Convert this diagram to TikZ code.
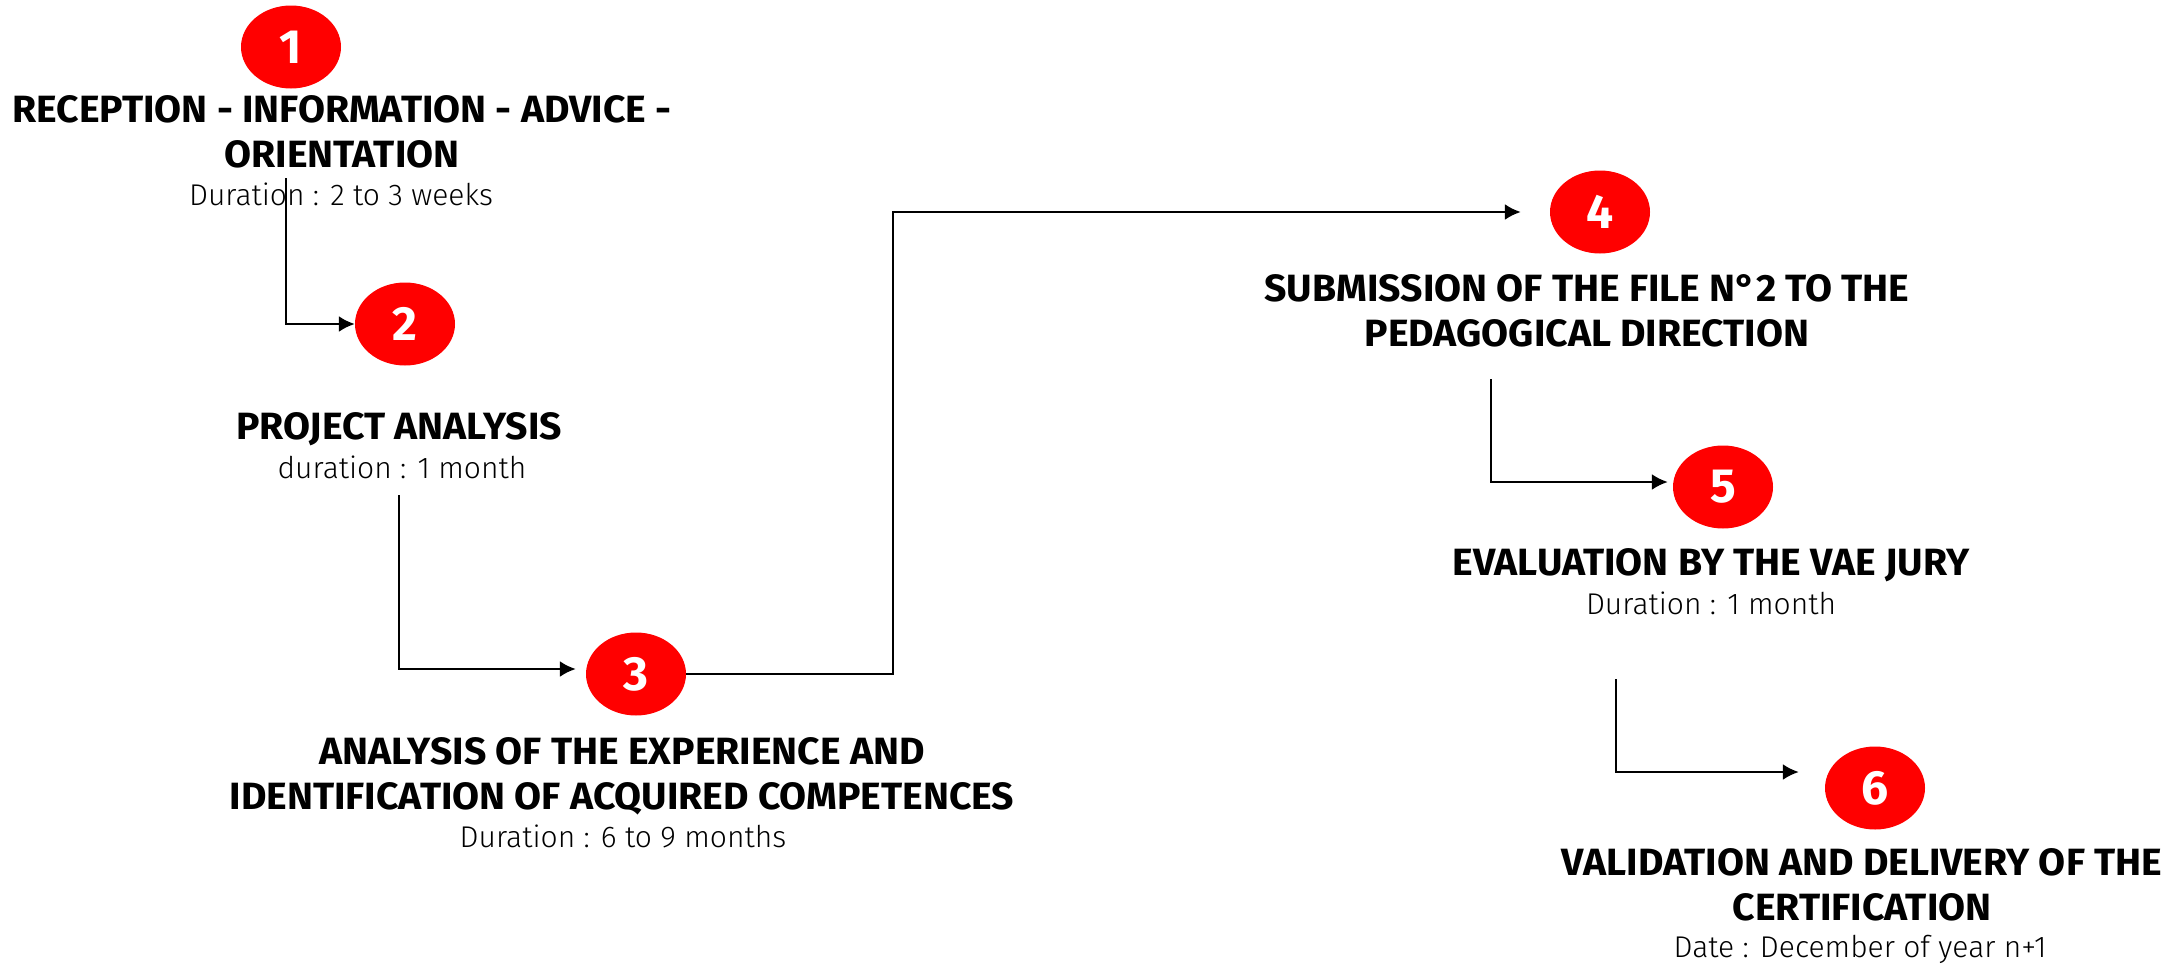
\documentclass[tikz,border=0pt]{standalone}
\usepackage{fontspec}
\setmainfont{Fira Sans}
\newfontfamily\headfont{Fira Sans}[FakeStretch=1.03]
\newfontfamily\lightfont{Fira Sans Light}
\usetikzlibrary{shapes.geometric,arrows.meta}

\begin{document}
\begin{tikzpicture}[x=1pt,y=-1pt]
			\tikzstyle{headline}=[align=center, inner sep=0pt, anchor=north, font=\fontsize{38}{45}\selectfont\headfont\bfseries]
			\tikzstyle{durtext}=[inner sep=0pt, anchor=north, font=\fontsize{30}{36}\selectfont\lightfont]
			\tikzstyle{stepnum}=[ellipse, fill=red, minimum width=100pt, minimum height=83pt, inner sep=0pt, text=white, font=\fontsize{48}{48}\selectfont\bfseries]
			\tikzset{edge/.style = {->,> = {Latex[length=16pt,width=16pt]}, line width=2.4pt}}
			
			\useasboundingbox (0,0) rectangle (2182,972);
			
			\node[stepnum](c1) at (291,47) {1};
			\node[headline](t1) at (342,95) {RECEPTION - INFORMATION - ADVICE -\\ORIENTATION};
			\node[durtext](d1) at (341,183) {Duration : 2 to 3 weeks};
			
			\node[stepnum](c2) at (405,324) {2};
			\node[headline](t2) at (399,412) {PROJECT ANALYSIS};
			\node[durtext](d2) at (402,456) {duration : 1 month};
			
			\node[stepnum](c3) at (636,674) {3};
			\node[headline](t3) at (622,737) {ANALYSIS OF THE EXPERIENCE AND\\IDENTIFICATION OF ACQUIRED COMPETENCES};
			\node[durtext](d3) at (623,825) {Duration : 6 to 9 months};
			
			\node[stepnum](c4) at (1600,212) {4};
			\node[headline](t4) at (1587,274) {SUBMISSION OF THE FILE N°2 TO THE\\PEDAGOGICAL DIRECTION};
			
			\node[stepnum](c5) at (1723,487) {5};
			\node[headline](t5) at (1711,548) {EVALUATION BY THE VAE JURY};
			\node[durtext](d5) at (1711,592) {Duration : 1 month};
			
			\node[stepnum](c6) at (1875,788) {6};
			\node[headline](t6) at (1862,848) {VALIDATION AND DELIVERY OF THE\\CERTIFICATION};
			\node[durtext](d6) at (1860,935) {Date : December of year n+1};
			
			\coordinate (s1) at (286,178);
			\coordinate (s2) at (399,495);
			\coordinate (k34) at (893,212);
			\coordinate (s4) at (1491,379);
			\coordinate (s5) at (1616,679);
			
			\draw[edge] (s1) |- (c2);
			\draw[edge, shorten >=10pt] (s2) |- ([yshift=5pt]c3.west);
			\draw[edge, shorten >=29pt] (c3) -| (k34) -- (c4);
			\draw[edge, shorten >=5pt] (s4) |- ([yshift=5pt]c5.west);
			\draw[edge, shorten >=26pt] (s5) |- ([yshift=16pt]c6.west);
\end{tikzpicture}
\end{document}
